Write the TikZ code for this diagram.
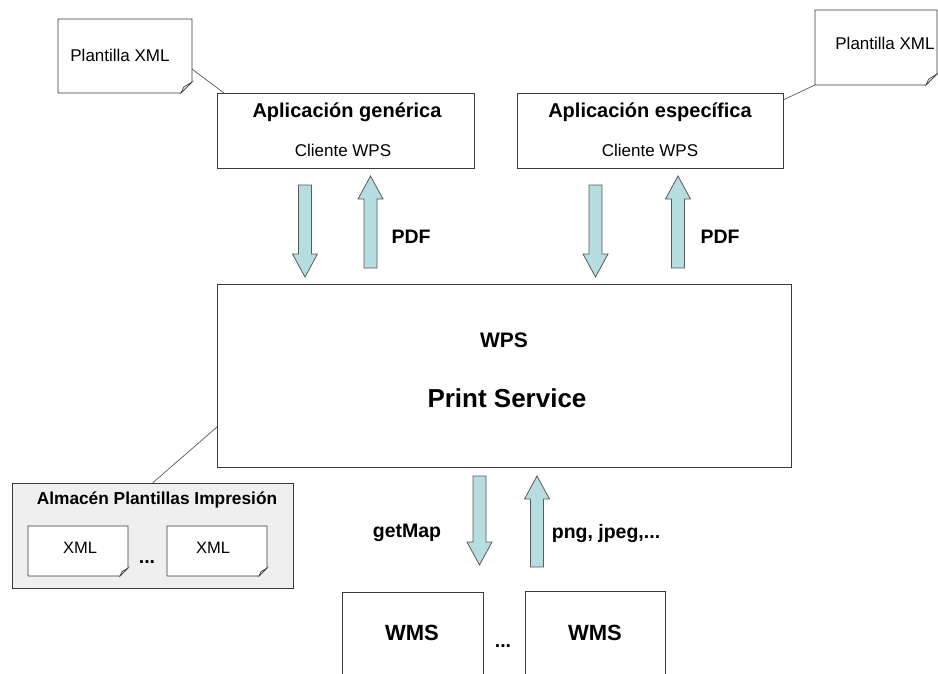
\documentclass[tikz,border=0pt]{standalone}
\usepackage{fontspec}
\setmainfont{Liberation Sans}
\usetikzlibrary{calc}

\definecolor{borde}{HTML}{3A3A3A}
\definecolor{linea}{HTML}{5A5A5A}
\definecolor{flechaazul}{HTML}{B6DDE0}
\definecolor{almacengris}{HTML}{EFEFEF}
\definecolor{pliegue}{HTML}{E4E4E4}

\tikzset{
  caja/.style={draw=borde, line width=0.8pt, fill=white, inner sep=0pt, outer sep=0pt},
  hueco/.style={inner sep=0pt, outer sep=0pt},
  hojadraw/.style={draw=borde, line width=0.8pt, fill=white},
  pliegdraw/.style={draw=borde, line width=0.6pt, fill=pliegue},
  bloque/.style={draw=linea, line width=0.8pt, fill=flechaazul, line join=miter},
  conector/.style={draw=linea, line width=0.7pt},
  titulo/.style={font=\bfseries\fontsize{20}{24}\selectfont},
  normal/.style={font=\fontsize{17}{20}\selectfont},
  etiqueta/.style={font=\bfseries\fontsize{19.5}{23}\selectfont},
}

% sheet of paper with its lower right corner folded over
\newcommand{\hoja}[2]{%
  \filldraw[hojadraw] (#1.north west) -- (#1.north east) -- ([yshift=#2]#1.south east)
    -- ([xshift=-#2]#1.south east) -- (#1.south west) -- cycle;
  \filldraw[pliegdraw] ([xshift=-#2]#1.south east) -- ([xshift=-0.75*#2, yshift=0.55*#2]#1.south east)
    -- ([yshift=#2]#1.south east) -- cycle;
}

% block arrow pointing down: centre x, tail y, tip y
\newcommand{\flechaabajo}[3]{%
  \filldraw[bloque] (#1-6.5,#2) -- (#1+6.5,#2) -- (#1+6.5,#3-23) -- (#1+12.5,#3-23)
    -- (#1,#3) -- (#1-12.5,#3-23) -- (#1-6.5,#3-23) -- cycle;
}
% block arrow pointing up: centre x, tail y, tip y
\newcommand{\flechaarriba}[3]{%
  \filldraw[bloque] (#1-6.5,#2) -- (#1+6.5,#2) -- (#1+6.5,#3+23) -- (#1+12.5,#3+23)
    -- (#1,#3) -- (#1-12.5,#3+23) -- (#1-6.5,#3+23) -- cycle;
}

\begin{document}
\begin{tikzpicture}[x=1pt, y=-1pt]
  \clip (0,0) rectangle (938,673);
  \fill[white] (0,0) rectangle (938,673);

  % templates feeding the client applications
  \node[hueco, minimum width=134pt, minimum height=74pt] (notaI) at (125,56) {};
  \hoja{notaI}{11pt}
  \node[normal] (txtNotaI) at (120,55) {Plantilla XML};

  \node[hueco, minimum width=122pt, minimum height=75pt] (notaD) at (876,47.5) {};
  \hoja{notaD}{11pt}
  \node[normal] (txtNotaD) at (885,43) {Plantilla XML};

  % client applications
  \node[caja, minimum width=257pt, minimum height=75pt] (appG) at (345.5,130.5) {};
  \node[titulo] (appGt) at (347,112) {Aplicación genérica};
  \node[normal] (appGs) at (343,150) {Cliente WPS};

  \node[caja, minimum width=266pt, minimum height=75pt] (appE) at (650,130.5) {};
  \node[titulo] (appEt) at (650,112) {Aplicación específica};
  \node[normal] (appEs) at (650,150) {Cliente WPS};

  \draw[conector] ([yshift=-13pt]notaI.east) -- ([xshift=7pt]appG.north west);
  \draw[conector] (notaD.south west) -- ([yshift=-7pt]appE.north east);

  % requests and PDF responses
  \flechaabajo{305}{185}{277}
  \flechaarriba{370.5}{268}{176}
  \node[etiqueta] (pdfG) at (411,237) {PDF};

  \flechaabajo{595.5}{185}{277}
  \flechaarriba{678}{268}{176}
  \node[etiqueta] (pdfE) at (720,237) {PDF};

  % the print service
  \node[caja, minimum width=574pt, minimum height=183pt] (wps) at (504,375.5) {};
  \node[font=\bfseries\fontsize{21}{25}\selectfont] (wpsT) at (504,340) {WPS};
  \node[font=\bfseries\fontsize{26}{30}\selectfont] (wpsS) at (507,398) {Print Service};

  % template store
  \node[caja, fill=almacengris, minimum width=281pt, minimum height=105pt] (almacen) at (152.5,535.5) {};
  \node[font=\bfseries\fontsize{17.3}{20}\selectfont] (almacenT) at (157,500) {Almacén Plantillas Impresión};
  \node[hueco, minimum width=100pt, minimum height=50pt] (xml1) at (78,551) {};
  \hoja{xml1}{8pt}
  \node[font=\fontsize{16.5}{20}\selectfont] (xml1t) at (80,548) {XML};
  \node[hueco, minimum width=100pt, minimum height=50pt] (xml2) at (217,551) {};
  \hoja{xml2}{8pt}
  \node[font=\fontsize{16.5}{20}\selectfont] (xml2t) at (213,548) {XML};
  \node[etiqueta, anchor=base] (xmlp) at (147,563) {...};

  \draw[conector] ([yshift=-51.5pt]wps.west) -- (almacen.north);

  % map requests to the WMS servers
  \flechaabajo{479.5}{476}{565}
  \flechaarriba{537}{567}{476}
  \node[etiqueta] (getmap) at (407,533) {getMap};
  \node[etiqueta] (png) at (606,533) {png, jpeg,...};

  \node[caja, minimum width=141pt, minimum height=108pt] (wms1) at (412.5,646) {};
  \node[font=\bfseries\fontsize{22}{26}\selectfont] (wms1t) at (412,633) {WMS};
  \node[caja, minimum width=140pt, minimum height=109pt] (wms2) at (595,645.5) {};
  \node[font=\bfseries\fontsize{22}{26}\selectfont] (wms2t) at (595,633) {WMS};
  \node[etiqueta, anchor=base] (wmsp) at (503,647) {...};
\end{tikzpicture}
\end{document}
